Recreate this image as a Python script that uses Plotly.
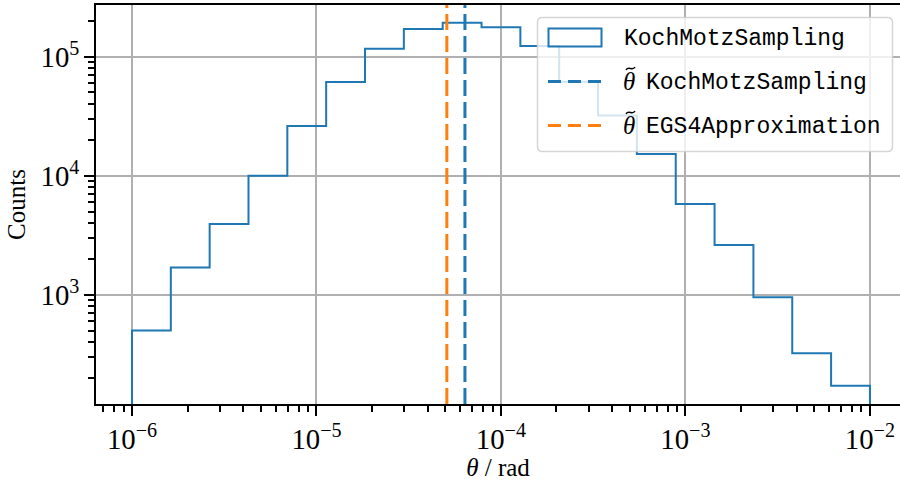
import numpy as np
import plotly.graph_objects as go

# Histogram of scattering angles (log-spaced bins from 1e-6 to 1e-2 rad)
bin_edges = np.logspace(-6, -2, 20)
counts = [500, 1690, 3930, 10000, 26200, 61300, 116800, 171000, 193000,
          176500, 123000, 61600, 32100, 15200, 5780, 2620, 950, 322, 172]

# Median scattering angles
median_kochmotz = 6.38e-5
median_egs4 = 5.09e-5

series_label = "KochMotzSampling"
median_labels = ["KochMotzSampling", "EGS4Approximation"]

BLUE = "#1f77b4"
ORANGE = "#ff7f0e"
SERIF = "Liberation Serif"
MONO = "Liberation Mono"

W, H = 900, 481
L, R, T, B = 96, 900, 5, 404  # plot area in pixels


def px(x):
    return (x - L) / (R - L)


def py(y):
    return (B - y) / (B - T)


# Step outline: rise from below the axis at the first edge, fall at the last edge
floor = min(counts) / 10
xs = [bin_edges[0]] + list(bin_edges[:-1]) + [bin_edges[-1]]
ys = [floor] + list(counts) + [floor]

fig = go.Figure()
fig.add_trace(go.Scatter(
    x=xs, y=ys, mode="lines", line=dict(color=BLUE, width=2, shape="hv"),
    showlegend=False, hoverinfo="skip",
))

# Median markers as dashed vertical lines spanning the full axes height
for value, color in [(median_kochmotz, BLUE), (median_egs4, ORANGE)]:
    fig.add_shape(type="line", xref="x", yref="paper", x0=value, x1=value,
                  y0=0, y1=1, line=dict(color=color, width=3, dash="16px,6px"),
                  layer="above")


# Legend box (semi-transparent, rounded)
def rounded_rect(x0, y0, x1, y1, r):
    rx, ry = r / (R - L), r / (B - T)
    a, b, c, d = px(x0), py(y1), px(x1), py(y0)  # left, bottom, right, top
    return (f"M{a + rx},{b} L{c - rx},{b} Q{c},{b} {c},{b + ry} "
            f"L{c},{d - ry} Q{c},{d} {c - rx},{d} L{a + rx},{d} "
            f"Q{a},{d} {a},{d - ry} L{a},{b + ry} Q{a},{b} {a + rx},{b} Z")


def tilde_path(xc, yc, w=9.0, h=3.0):
    # small wave used as the accent over theta
    p0 = (xc - w / 2, yc + h / 2)
    c1 = (xc - w / 4, yc - h)
    c2 = (xc + w / 4, yc + h)
    p1 = (xc + w / 2, yc - h / 2)
    return (f"M{px(p0[0])},{py(p0[1])} C{px(c1[0])},{py(c1[1])} "
            f"{px(c2[0])},{py(c2[1])} {px(p1[0])},{py(p1[1])}")


fig.add_shape(type="path", xref="paper", yref="paper",
              path=rounded_rect(537.5, 17.5, 892.5, 151.5, 5),
              fillcolor="rgba(255,255,255,0.8)",
              line=dict(color="rgba(204,204,204,0.8)", width=1.5), layer="above")

# Histogram handle: outlined rectangle
fig.add_shape(type="rect", xref="paper", yref="paper",
              x0=px(548.5), x1=px(601.5), y0=py(46.5), y1=py(28.5),
              line=dict(color=BLUE, width=2), fillcolor="rgba(0,0,0,0)",
              layer="above")

# Median handles: dashed line samples
for yrow, color in [(81.5, BLUE), (125.5, ORANGE)]:
    fig.add_shape(type="line", xref="paper", yref="paper",
                  x0=px(548), x1=px(602), y0=py(yrow), y1=py(yrow),
                  line=dict(color=color, width=3, dash="13px,7px"), layer="above")

text_rows = [39, 83, 127]
fig.add_annotation(x=px(622), y=py(text_rows[0]), xref="paper", yref="paper",
                   text=series_label, showarrow=False, xanchor="left",
                   yanchor="middle", font=dict(family=MONO, size=23, color="black"))
for yrow, label in zip(text_rows[1:], median_labels):
    fig.add_annotation(x=px(621), y=py(yrow - 2), xref="paper", yref="paper",
                       text="<i>θ</i>", showarrow=False, xanchor="left",
                       yanchor="middle", font=dict(family=SERIF, size=25, color="black"))
    fig.add_shape(type="path", xref="paper", yref="paper",
                  path=tilde_path(630.5, yrow - 14.5),
                  line=dict(color="black", width=1.4), layer="above")
    fig.add_annotation(x=px(644), y=py(yrow), xref="paper", yref="paper",
                       text=label, showarrow=False, xanchor="left",
                       yanchor="middle", font=dict(family=MONO, size=23, color="black"))

axis_common = dict(
    type="log", showline=True, linecolor="black", linewidth=2,
    ticks="outside", ticklen=10, tickwidth=2, tickcolor="black",
    showgrid=True, gridcolor="#b0b0b0", gridwidth=1.6,
    dtick=1, exponentformat="power", zeroline=False,
    tickfont=dict(family=SERIF, size=23, color="black"),
    minor=dict(ticks="outside", ticklen=6, tickwidth=1.5, tickcolor="black",
               dtick="D1", showgrid=False),
)

fig.update_xaxes(**axis_common, range=[-6.195, -1.837], mirror=True,
                 title=dict(text="<i>θ</i> / rad", standoff=6,
                            font=dict(family=SERIF, size=25, color="black")))
fig.update_yaxes(**axis_common, range=[2.0815, 5.434], mirror=False,
                 title=dict(text="Counts", standoff=8,
                            font=dict(family=SERIF, size=25, color="black")))

fig.update_layout(
    width=W, height=H,
    margin=dict(l=L, r=W - R, t=T, b=H - B),
    plot_bgcolor="white", paper_bgcolor="white",
    showlegend=False,
)

fig.write_html("out.html")
